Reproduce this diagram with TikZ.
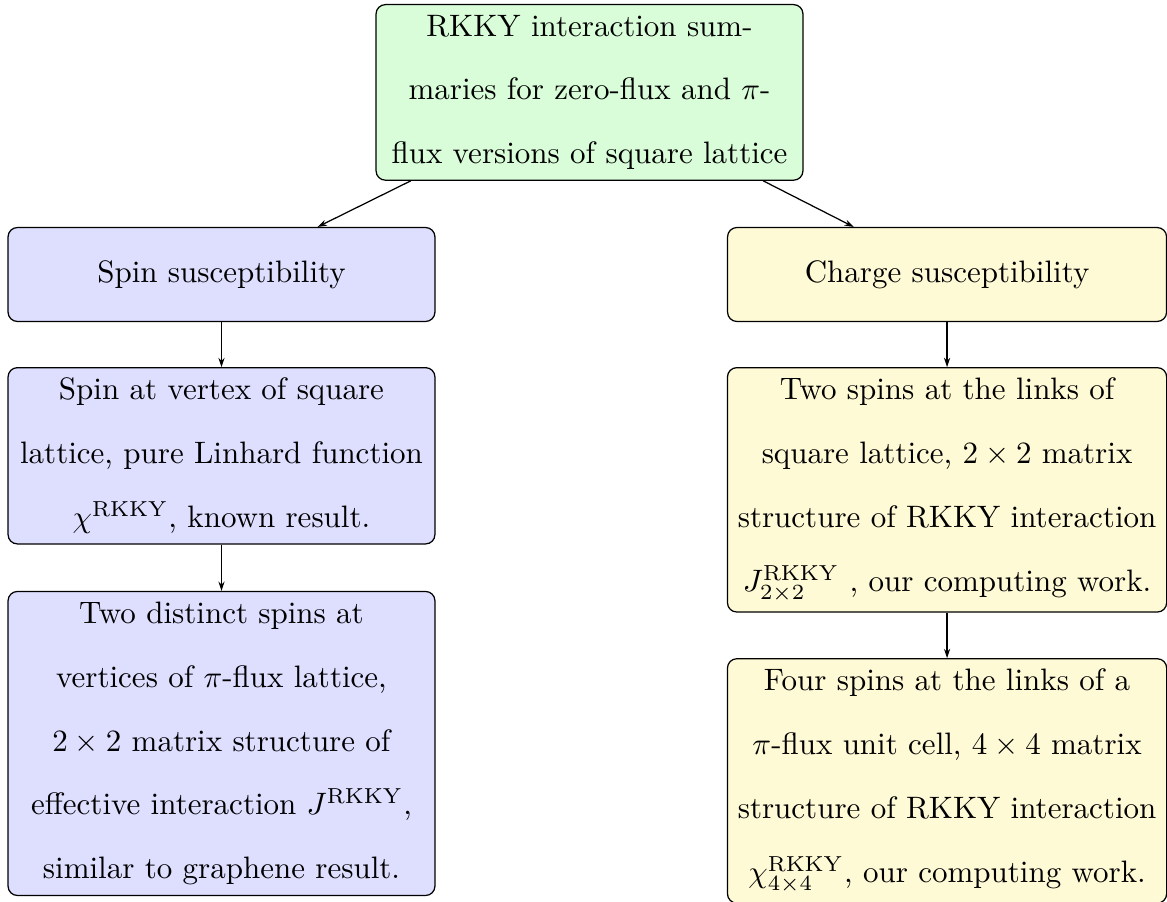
\documentclass[tikz,border=0pt]{standalone}
\usetikzlibrary{arrows.meta}
\definecolor{greenfill}{RGB}{217,252,217}
\definecolor{bluefill}{RGB}{222,222,255}
\definecolor{yellowfill}{RGB}{255,250,214}
\tikzset{
  box/.style={draw=black, rounded corners=3pt, align=center, anchor=north,
    inner sep=3.33pt, minimum height=30.3pt,
    font={\fontsize{10}{20.6}\selectfont}},
  topbox/.style={box, fill=greenfill, minimum width=137.7pt},
  leftbox/.style={box, fill=bluefill, minimum width=137.7pt},
  rightbox/.style={box, fill=yellowfill, minimum width=141.6pt},
  conn/.style={-{Stealth[length=3pt,width=2pt]}}
}
\begin{document}
\begin{tikzpicture}
\useasboundingbox (0,0) rectangle (376.45pt,-290.65pt);
\node[topbox] (top) at (190.16pt,-1.29pt)
  {RKKY interaction sum-\\maries for zero-flux and $\pi$-\\flux versions of square lattice};
\node[leftbox] (l1) at (71.45pt,-73.2pt) {Spin susceptibility};
\node[leftbox] (l2) at (71.45pt,-118.4pt)
  {Spin at vertex of square\\lattice, pure Linhard function\\$\chi^{\mathrm{RKKY}}$, known result.};
\node[leftbox] (l3) at (71.45pt,-190.6pt)
  {Two distinct spins at\\vertices of $\pi$-flux lattice,\\$2\times 2$ matrix structure of\\effective interaction $J^{\mathrm{RKKY}}$,\\similar to graphene result.};
\node[rightbox] (r1) at (305.5pt,-73.2pt) {Charge susceptibility};
\node[rightbox] (r2) at (305.5pt,-118.4pt)
  {Two spins at the links of\\square lattice, $2\times 2$ matrix\\structure of RKKY interaction\\$J^{\mathrm{RKKY}}_{2\times 2}$ , our computing work.};
\node[rightbox] (r3) at (305.5pt,-212.3pt)
  {Four spins at the links of a\\$\pi$-flux unit cell, $4\times 4$ matrix\\structure of RKKY interaction\\$\chi^{\mathrm{RKKY}}_{4\times 4}$, our computing work.};
\draw[conn] (top) -- (l1);
\draw[conn] (top) -- (r1);
\draw[conn] (l1) -- (l2);
\draw[conn] (l2) -- (l3);
\draw[conn] (r1) -- (r2);
\draw[conn] (r2) -- (r3);
\end{tikzpicture}
\end{document}
